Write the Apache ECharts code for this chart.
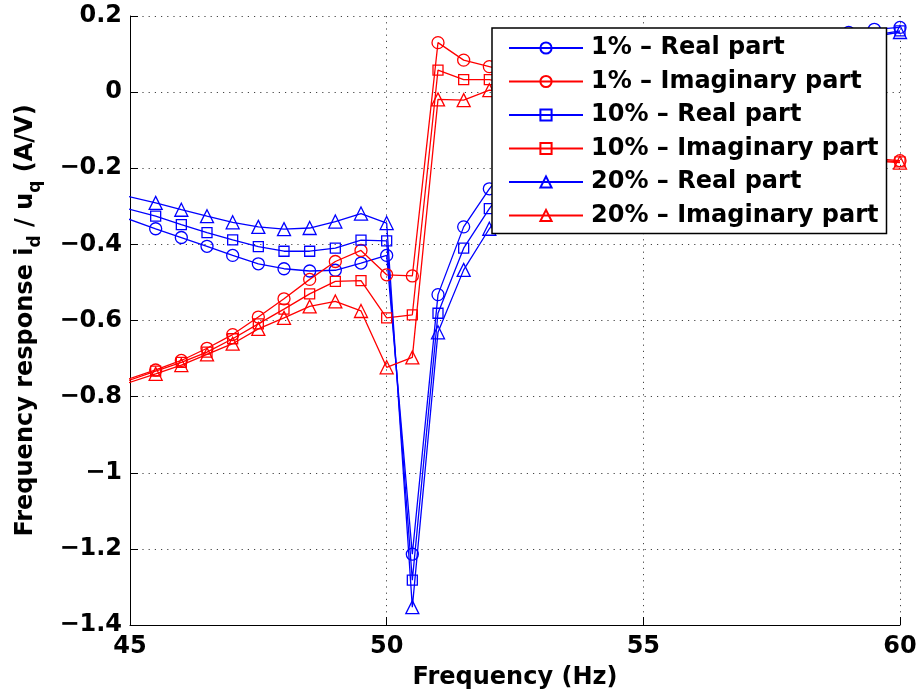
<!DOCTYPE html>
<html>
<head>
<meta charset="utf-8">
<script src="https://cdn.jsdelivr.net/npm/echarts@6/dist/echarts.min.js"></script>
<style>
  html, body { margin: 0; padding: 0; background: #fff; }
  #chart { width: 919px; height: 696px; }
</style>
</head>
<body>
<div id="chart"></div>
<script>
// Frequency sweep (Hz)
const freq = [44.5, 45.5, 46, 46.5, 47, 47.5, 48, 48.5, 49, 49.5, 50, 50.5, 51, 51.5, 52,
  52.5, 53, 53.5, 54, 54.5, 55, 55.5, 56, 56.5, 57, 57.5, 58, 58.5, 59, 59.5, 60];

// Real and imaginary parts of i_d / u_q for 1 %, 10 % and 20 % perturbation
const real1 = [-0.311, -0.359, -0.382, -0.405, -0.429, -0.451, -0.464, -0.470, -0.468, -0.449, -0.429,
  -1.214, -0.532, -0.354, -0.254, -0.170, -0.100, -0.045, -0.005, 0.025, 0.050, 0.070, 0.088, 0.103,
  0.116, 0.127, 0.136, 0.144, 0.157, 0.165, 0.170];
const imag1 = [-0.775, -0.730, -0.705, -0.673, -0.637, -0.591, -0.543, -0.492, -0.445, -0.416, -0.480,
  -0.483, 0.130, 0.084, 0.067, 0.050, 0.030, 0.005, -0.020, -0.045, -0.065, -0.085, -0.100, -0.115,
  -0.130, -0.140, -0.150, -0.160, -0.168, -0.175, -0.180];
const real10 = [-0.290, -0.326, -0.348, -0.369, -0.388, -0.406, -0.418, -0.418, -0.410, -0.389, -0.391,
  -1.282, -0.581, -0.410, -0.306, -0.215, -0.140, -0.080, -0.040, -0.005, 0.025, 0.048, 0.068, 0.085,
  0.100, 0.112, 0.122, 0.131, 0.140, 0.150, 0.161];
const imag10 = [-0.780, -0.733, -0.710, -0.683, -0.648, -0.609, -0.570, -0.530, -0.497, -0.495, -0.593,
  -0.585, 0.058, 0.033, 0.033, 0.020, 0.000, -0.020, -0.040, -0.060, -0.080, -0.095, -0.110, -0.125,
  -0.137, -0.147, -0.157, -0.165, -0.172, -0.178, -0.183];
const real20 = [-0.259, -0.291, -0.309, -0.326, -0.342, -0.354, -0.360, -0.357, -0.340, -0.319, -0.344,
  -1.353, -0.631, -0.467, -0.359, -0.260, -0.180, -0.115, -0.070, -0.030, 0.005, 0.032, 0.055, 0.074,
  0.090, 0.103, 0.114, 0.124, 0.133, 0.146, 0.158];
const imag20 = [-0.785, -0.740, -0.717, -0.689, -0.661, -0.622, -0.593, -0.563, -0.550, -0.575, -0.723,
  -0.697, -0.019, -0.021, 0.005, 0.000, -0.015, -0.030, -0.050, -0.065, -0.085, -0.100, -0.115, -0.130,
  -0.140, -0.152, -0.162, -0.170, -0.176, -0.181, -0.185];

// Axis ticks and their labels
const xTicks = [45, 50, 55, 60];
const xTickLabels = ['45', '50', '55', '60'];
const yTicks = [-1.4, -1.2, -1, -0.8, -0.6, -0.4, -0.2, 0, 0.2];
const yTickLabels = ['\u22121.4', '\u22121.2', '\u22121', '\u22120.8', '\u22120.6', '\u22120.4', '\u22120.2', '0', '0.2'];

const seriesNames = ['1% \u2013 Real part', '1% \u2013 Imaginary part', '10% \u2013 Real part',
  '10% \u2013 Imaginary part', '20% \u2013 Real part', '20% \u2013 Imaginary part'];

const FONT = "'DejaVu Sans', 'Liberation Sans', sans-serif";
const BLUE = '#0000ff';
const RED = '#ff0000';

function labelFor(ticks, labels, v) {
  let best = 0;
  for (let i = 1; i < ticks.length; i++) {
    if (Math.abs(ticks[i] - v) < Math.abs(ticks[best] - v)) best = i;
  }
  return labels[best];
}

function makeSeries(name, values, color, symbol, size) {
  return {
    name: name,
    type: 'line',
    data: freq.map((f, i) => [f, values[i]]),
    symbol: symbol,
    symbolSize: size,
    showAllSymbol: true,
    clip: true,
    lineStyle: { color: color, width: 1.3 },
    itemStyle: { color: 'rgba(255,255,255,0)', borderColor: color, borderWidth: 1.3 },
    emphasis: { disabled: true },
    animation: false
  };
}

const chart = echarts.init(document.getElementById('chart'), null, { renderer: 'canvas' });

const gridDots = { show: true, lineStyle: { color: '#444', width: 1, type: [1.2, 5] } };

const option = {
  backgroundColor: '#ffffff',
  animation: false,
  grid: { left: 130, right: 19, top: 16, bottom: 71, containLabel: false, outerBoundsMode: 'none' },
  xAxis: {
    type: 'value',
    min: 45, max: 60, interval: 5,
    name: 'Frequency (Hz)',
    nameLocation: 'middle',
    nameGap: 41,
    nameTextStyle: { fontFamily: FONT, fontWeight: 'bold', fontSize: 24, color: '#000' },
    axisLine: { onZero: false, lineStyle: { color: '#000', width: 1 } },
    axisTick: { inside: true, length: 8, lineStyle: { color: '#000' } },
    axisLabel: {
      fontFamily: FONT, fontWeight: 'bold', fontSize: 24, color: '#000', margin: 10,
      formatter: v => labelFor(xTicks, xTickLabels, v)
    },
    splitLine: gridDots
  },
  yAxis: {
    type: 'value',
    min: -1.4, max: 0.2, interval: 0.2,
    name: '{m|Frequency response i}{s|d}{m| / u}{s|q}{m| (A/V)}',
    nameLocation: 'middle',
    nameRotate: 90,
    nameGap: 86,
    nameTextStyle: {
      color: '#000',
      rich: {
        m: { fontFamily: FONT, fontWeight: 'bold', fontSize: 24, color: '#000' },
        s: { fontFamily: FONT, fontWeight: 'bold', fontSize: 17, color: '#000', padding: [20, 0, 0, 0] }
      }
    },
    axisLine: { show: true, onZero: false, lineStyle: { color: '#000', width: 1 } },
    axisTick: { show: true, inside: true, length: 8, lineStyle: { color: '#000' } },
    axisLabel: {
      fontFamily: FONT, fontWeight: 'bold', fontSize: 24, color: '#000', margin: 8,
      formatter: v => labelFor(yTicks, yTickLabels, v)
    },
    splitLine: gridDots
  },
  legend: {
    orient: 'vertical',
    left: 492, top: 28,
    backgroundColor: '#ffffff',
    borderColor: '#000',
    borderWidth: 1.5,
    borderRadius: 0,
    padding: [6, 8, 4, 16],
    itemWidth: 74,
    itemHeight: 14,
    itemGap: 5.5,
    selectedMode: false,
    textStyle: { fontFamily: FONT, fontWeight: 'bold', fontSize: 24, color: '#000', lineHeight: 28, padding: [0, 0, 0, 3] },
    data: seriesNames
  },
  series: [
    makeSeries(seriesNames[0], real1, BLUE, 'circle', 12),
    makeSeries(seriesNames[1], imag1, RED, 'circle', 12),
    makeSeries(seriesNames[2], real10, BLUE, 'rect', 10),
    makeSeries(seriesNames[3], imag10, RED, 'rect', 10),
    makeSeries(seriesNames[4], real20, BLUE, 'triangle', 13),
    makeSeries(seriesNames[5], imag20, RED, 'triangle', 13)
  ]
};

chart.setOption(option);
</script>
</body>
</html>
